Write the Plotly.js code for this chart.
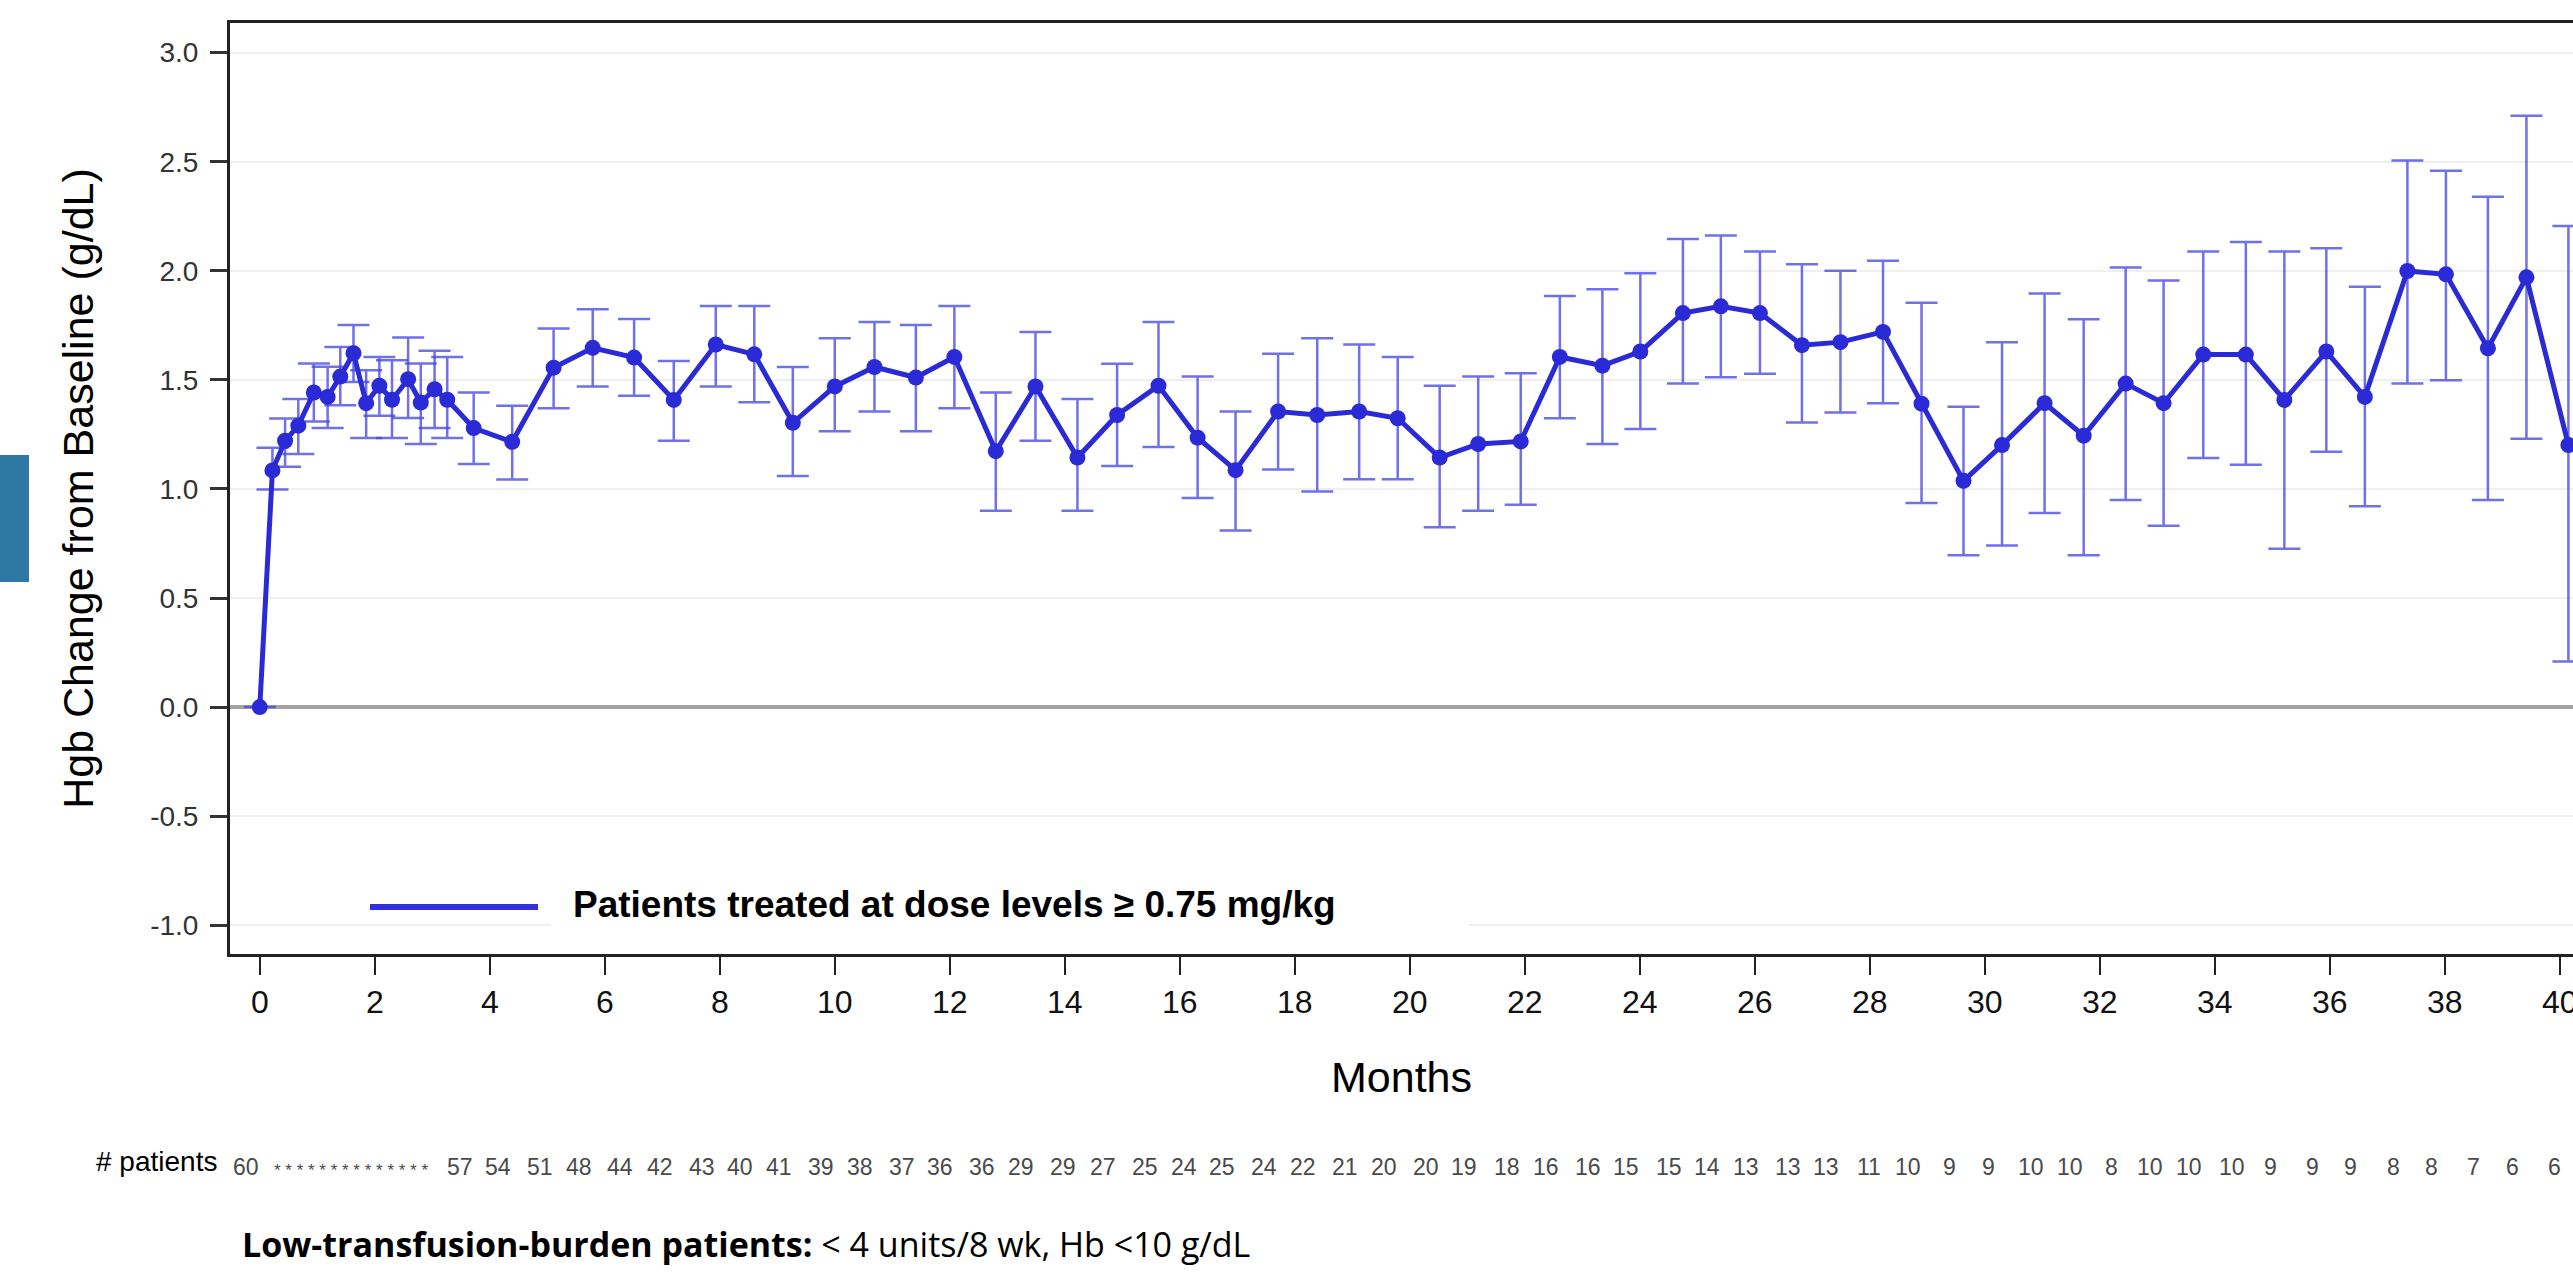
<!DOCTYPE html>
<html>
<head>
<meta charset="utf-8">
<script src="https://cdn.plot.ly/plotly-3.0.1.min.js"></script>
<style>html,body{margin:0;padding:0;background:#fff;}#chart{width:2573px;height:1273px;}</style>
</head>
<body>
<div id="chart"></div>
<script>
// ---- data ----
var months = [0, 0.22, 0.44, 0.67, 0.94, 1.18, 1.40, 1.63, 1.85, 2.08, 2.30, 2.58, 2.80, 3.04, 3.26,
  3.72, 4.39, 5.11, 5.79, 6.51, 7.20, 7.93, 8.60, 9.27, 10.00, 10.69, 11.41, 12.08, 12.80,
  13.49, 14.22, 14.91, 15.63, 16.31, 16.97, 17.71, 18.39, 19.12, 19.79, 20.52, 21.19, 21.93, 22.61, 23.35,
  24.01, 24.75, 25.41, 26.09, 26.82, 27.49, 28.23, 28.90, 29.63, 30.30, 31.04, 31.72, 32.45, 33.11,
  33.80, 34.54, 35.21, 35.94, 36.61, 37.35, 38.02, 38.75, 39.42, 40.15];

var hgbChange = [0, 1.085, 1.221, 1.29, 1.442, 1.422, 1.515, 1.622, 1.393, 1.473, 1.409, 1.503, 1.396, 1.457, 1.409,
  1.279, 1.216, 1.556, 1.647, 1.602, 1.408, 1.662, 1.617, 1.303, 1.47, 1.559, 1.511, 1.605, 1.173,
  1.47, 1.144, 1.339, 1.473, 1.235, 1.086, 1.355, 1.339, 1.355, 1.324, 1.144, 1.206, 1.218, 1.605, 1.565,
  1.63, 1.806, 1.837, 1.806, 1.659, 1.673, 1.72, 1.391, 1.037, 1.201, 1.393, 1.244, 1.483, 1.393,
  1.616, 1.616, 1.408, 1.63, 1.422, 1.999, 1.984, 1.645, 1.97, 1.201];

var upperCI = [0, 1.189, 1.323, 1.412, 1.575, 1.56, 1.651, 1.752, 1.544, 1.605, 1.59, 1.694, 1.575, 1.633, 1.605,
  1.442, 1.381, 1.735, 1.824, 1.779, 1.586, 1.839, 1.839, 1.559, 1.691, 1.765, 1.752, 1.839, 1.442,
  1.72, 1.412, 1.574, 1.765, 1.515, 1.355, 1.62, 1.691, 1.662, 1.605, 1.473, 1.515, 1.53, 1.885, 1.915,
  1.989, 2.146, 2.162, 2.089, 2.03, 2.0, 2.046, 1.853, 1.377, 1.673, 1.896, 1.778, 2.015, 1.956,
  2.089, 2.132, 2.089, 2.103, 1.927, 2.506, 2.459, 2.34, 2.711, 2.205];

var lowerCI = [0, 0.997, 1.102, 1.16, 1.309, 1.279, 1.384, 1.49, 1.233, 1.335, 1.233, 1.325, 1.206, 1.279, 1.233,
  1.114, 1.043, 1.37, 1.47, 1.427, 1.221, 1.47, 1.397, 1.059, 1.264, 1.355, 1.265, 1.37, 0.9,
  1.221, 0.9, 1.105, 1.192, 0.958, 0.81, 1.089, 0.988, 1.044, 1.044, 0.824, 0.9, 0.927, 1.324, 1.206,
  1.275, 1.483, 1.512, 1.528, 1.305, 1.35, 1.393, 0.935, 0.696, 0.741, 0.89, 0.696, 0.949, 0.831,
  1.142, 1.111, 0.726, 1.17, 0.921, 1.483, 1.498, 0.949, 1.23, 0.209];

// '*' = weekly visit shown with an asterisk instead of a count
var patientCounts = ['60', '*', '*', '*', '*', '*', '*', '*', '*', '*', '*', '*', '*', '*', '*',
  '57', '54', '51', '48', '44', '42', '43', '40', '41', '39', '38', '37', '36', '36',
  '29', '29', '27', '25', '24', '25', '24', '22', '21', '20', '20', '19', '18', '16', '16',
  '15', '15', '14', '13', '13', '13', '11', '10', '9', '9', '10', '10', '8', '10', '10',
  '10', '9', '9', '9', '8', '8', '7', '6', '6'];

var xTickVals = [0, 2, 4, 6, 8, 10, 12, 14, 16, 18, 20, 22, 24, 26, 28, 30, 32, 34, 36, 38, 40];
var yTickVals = [-1.0, -0.5, 0.0, 0.5, 1.0, 1.5, 2.0, 2.5, 3.0];
var yTickText = ['-1.0', '-0.5', '0.0', '0.5', '1.0', '1.5', '2.0', '2.5', '3.0'];

var seriesName = 'Patients treated at dose levels \u2265 0.75 mg/kg';
var yTitle = 'Hgb Change from Baseline (g/dL)';
var xTitle = 'Months';
var rowLabel = '# patients';
var footnote = '<b>Low-transfusion-burden patients:</b> &lt; 4 units/8 wk, Hb &lt;10 g/dL';

// ---- layout geometry ----
var W = 2573, H = 1273;
var M = {l: 230, r: 0, t: 23, b: 319};
var plotW = W - M.l - M.r, plotH = H - M.t - M.b;
function px(x) { return (x - M.l) / plotW; }
function py(y) { return (H - M.b - y) / plotH; }

var blue = '#2a2ad6';

var trace = {
  x: months,
  y: hgbChange,
  type: 'scatter',
  mode: 'lines+markers',
  name: seriesName,
  line: {color: blue, width: 5},
  marker: {color: blue, size: 16},
  error_y: {
    type: 'data',
    symmetric: false,
    array: upperCI.map(function (u, i) { return u - hgbChange[i]; }),
    arrayminus: lowerCI.map(function (l, i) { return hgbChange[i] - l; }),
    color: 'rgba(72,72,228,0.78)',
    thickness: 2.5,
    width: 16
  },
  showlegend: false,
  cliponaxis: false
};

var countFont = {family: 'Liberation Sans, Arial, sans-serif', size: 23, color: '#4a4a4a'};

var annotations = [
  {xref: 'paper', yref: 'paper', x: px(571), y: py(904), xanchor: 'left', yanchor: 'middle',
   text: '<b>' + seriesName + '</b>', showarrow: false,
   font: {family: 'Liberation Sans, Arial, sans-serif', size: 37, color: '#000'}},
  {xref: 'paper', yref: 'paper', x: px(219), y: py(1161), xanchor: 'right', yanchor: 'middle',
   text: rowLabel, showarrow: false,
   font: {family: 'Liberation Sans, Arial, sans-serif', size: 28, color: '#000'}},
  {xref: 'paper', yref: 'paper', x: px(240), y: py(1244), xanchor: 'left', yanchor: 'middle',
   text: footnote, showarrow: false,
   font: {family: 'Open Sans, sans-serif', size: 34, color: '#000'}},
  // run of asterisks for the weekly visits without a count
  {xref: 'paper', yref: 'paper', x: px(272), y: py(1170), xanchor: 'left', yanchor: 'middle',
   text: patientCounts.filter(function (c) { return c === '*'; }).join(' '), showarrow: false,
   font: {family: 'Liberation Sans, Arial, sans-serif', size: 17, color: '#4a4a4a'}}
];

patientCounts.forEach(function (c, i) {
  if (c === '*') return;
  annotations.push({
    xref: 'x', yref: 'paper', x: months[i], y: py(1167), xshift: -14,
    xanchor: 'center', yanchor: 'middle', text: c, showarrow: false,
    font: countFont
  });
});

var shapes = [
  // white box behind legend
  {type: 'rect', xref: 'paper', yref: 'paper', x0: px(551), x1: px(1469), y0: py(942), y1: py(876),
   fillcolor: '#ffffff', line: {width: 0}, layer: 'above'},
  // legend line
  {type: 'line', xref: 'paper', yref: 'paper', x0: px(370), x1: px(538), y0: py(907), y1: py(907),
   line: {color: '#3030dc', width: 6}, layer: 'above'},
  // teal tab at left edge
  {type: 'rect', xref: 'paper', yref: 'paper', x0: px(0), x1: px(29), y0: py(582), y1: py(455),
   fillcolor: '#2f78a3', line: {width: 0}, layer: 'above'}
];

var layout = {
  width: W, height: H,
  margin: M,
  paper_bgcolor: '#ffffff',
  plot_bgcolor: '#ffffff',
  font: {family: 'Liberation Sans, Arial, sans-serif'},
  showlegend: false,
  xaxis: {
    range: [-0.518, 40.23],
    tickvals: xTickVals,
    ticks: 'outside', ticklen: 18, tickwidth: 2, tickcolor: '#222',
    ticklabeloverflow: 'allow',
    showline: true, linewidth: 3, linecolor: '#222', mirror: true,
    showgrid: false, zeroline: false,
    tickfont: {size: 32, color: '#111'},
    title: {text: xTitle, font: {size: 43, color: '#000'}, standoff: 43}
  },
  yaxis: {
    range: [-1.132, 3.136],
    tickvals: yTickVals, ticktext: yTickText,
    ticks: 'outside', ticklen: 17, tickwidth: 3, tickcolor: '#333',
    ticklabelstandoff: 6,
    showline: true, linewidth: 3, linecolor: '#222', mirror: false,
    showgrid: true, gridcolor: '#efefef', gridwidth: 2,
    zeroline: true, zerolinecolor: '#a3a3a3', zerolinewidth: 4,
    tickfont: {size: 28, color: '#333'},
    title: {text: yTitle, font: {size: 43, color: '#000'}, standoff: 44}
  },
  shapes: shapes,
  annotations: annotations
};

Plotly.newPlot('chart', [trace], layout, {displayModeBar: false, staticPlot: true});
</script>
</body>
</html>
